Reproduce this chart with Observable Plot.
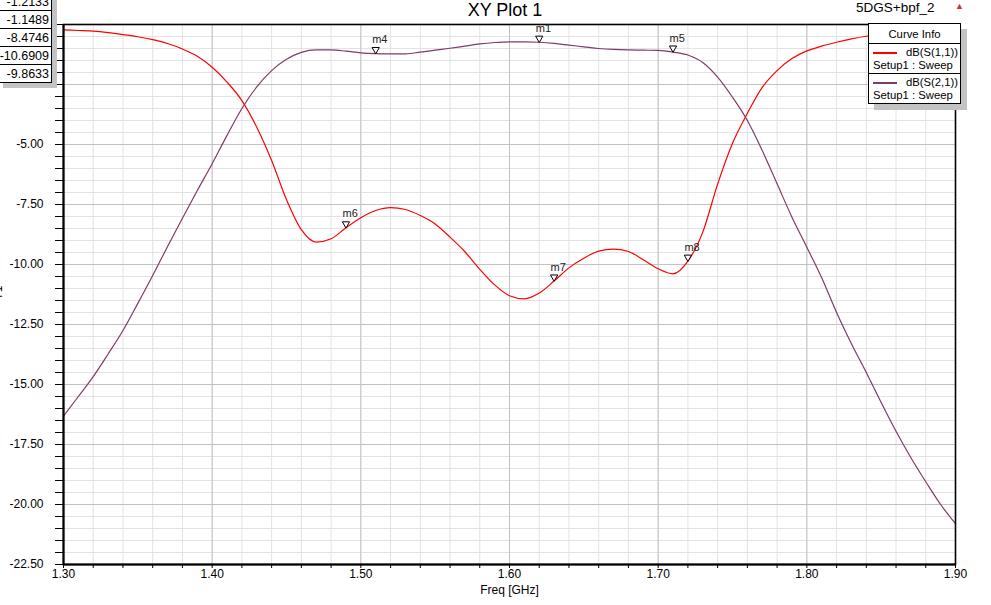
<!DOCTYPE html>
<html>
<head>
<meta charset="utf-8">
<script src="https://cdn.jsdelivr.net/npm/d3@7"></script>
<script src="https://cdn.jsdelivr.net/npm/@observablehq/plot@0.6"></script>
<style>
  html, body { margin:0; padding:0; background:#fff; }
  #wrap { position:relative; width:991px; height:605px; overflow:hidden; font-family:"Liberation Sans", Arial, sans-serif; }
  #chart { position:absolute; left:0; top:0; }
  .abs { position:absolute; white-space:nowrap; }
</style>
</head>
<body>
<div id="wrap">
  <div id="chart"></div>
  <div class="abs" style="left:0;width:1010px;top:0px;text-align:center;font-size:18px;color:#000;">XY Plot 1</div>
  <div class="abs" style="left:856px;top:0px;font-size:13.5px;color:#000;">5DGS+bpf_2</div>
  <div class="abs" style="left:955px;top:1px;font-size:9px;color:#c83030;">▲</div>
  <div class="abs" style="left:-9px;top:286px;font-size:12px;transform:rotate(-90deg);">Y1</div>
  <div id="mtable" class="abs"></div>
  <div id="legend" class="abs"></div>
</div>
<script>
// ---------- data ----------
const freq = [1.30,1.31,1.32,1.33,1.34,1.35,1.36,1.37,1.38,1.39,
              1.40,1.41,1.42,1.43,1.44,1.45,1.46,1.47,1.48,1.49,
              1.50,1.51,1.52,1.53,1.54,1.55,1.56,1.57,1.58,1.59,
              1.60,1.61,1.62,1.63,1.64,1.65,1.66,1.67,1.68,1.69,
              1.70,1.71,1.72,1.73,1.74,1.75,1.76,1.77,1.78,1.79,
              1.80,1.81,1.82,1.83,1.84,1.85,1.86,1.87,1.88,1.89,1.90];
const s11 = [-0.22,-0.25,-0.28,-0.34,-0.42,-0.51,-0.63,-0.79,-1.02,-1.32,
             -1.78,-2.40,-3.17,-4.28,-5.67,-7.30,-8.55,-9.07,-8.93,-8.47,
             -8.05,-7.75,-7.63,-7.71,-7.96,-8.31,-8.86,-9.47,-10.20,-10.85,
             -11.30,-11.43,-11.19,-10.69,-10.14,-9.74,-9.44,-9.36,-9.46,-9.80,
             -10.18,-10.39,-9.86,-8.65,-6.65,-4.95,-3.70,-2.62,-1.92,-1.42,
             -1.10,-0.90,-0.74,-0.60,-0.49,-0.42,-0.37,-0.33,-0.30,-0.27,-0.25];
const s21 = [-16.32,-15.50,-14.67,-13.73,-12.75,-11.62,-10.46,-9.25,-8.07,-6.92,
             -5.80,-4.62,-3.50,-2.60,-1.92,-1.45,-1.16,-1.06,-1.06,-1.11,
             -1.18,-1.21,-1.22,-1.22,-1.15,-1.07,-0.99,-0.90,-0.81,-0.75,
             -0.72,-0.72,-0.74,-0.79,-0.86,-0.93,-1.00,-1.04,-1.06,-1.07,
             -1.08,-1.15,-1.27,-1.58,-2.19,-3.03,-4.00,-5.25,-6.64,-8.03,
             -9.28,-10.55,-12.00,-13.30,-14.50,-15.75,-16.95,-18.05,-19.05,-20.00,-20.80];

const seriesNames = ["dB(S(1,1))", "dB(S(2,1))"];
const seriesColors = ["#ff0000", "#7d3c68"];
const seriesSetup = ["Setup1 : Sweep", "Setup1 : Sweep"];

const markerNames = ["m1","m4","m5","m6","m7","m8"];
const markerFreq  = [1.62, 1.51, 1.71, 1.49, 1.63, 1.72];
const markerVal   = [-0.7404, -1.2133, -1.1489, -8.4746, -10.6909, -9.8633];

const xTickLabels = ["1.30","1.40","1.50","1.60","1.70","1.80","1.90"];
const yTickLabels = ["0.00","-2.50","-5.00","-7.50","-10.00","-12.50","-15.00","-17.50","-20.00","-22.50"];
const xLabel = "Freq [GHz]";

// ---------- derived tables ----------
const xTicks = xTickLabels.map(Number);
const yTicks = yTickLabels.map(Number);
const xMinor = d3.range(0, 31).map(i => +(1.30 + i * 0.02).toFixed(2));
const yMinor = d3.range(0, 46).map(i => -i * 0.5);

const rows = [];
freq.forEach((f, i) => {
  rows.push({f, v: s11[i], s: seriesNames[0]});
  rows.push({f, v: s21[i], s: seriesNames[1]});
});
const markers = markerNames.map((m, i) => ({m, f: markerFreq[i], v: markerVal[i]}));

const plot = Plot.plot({
  width: 991, height: 605,
  marginLeft: 63, marginRight: 36, marginTop: 24, marginBottom: 41,
  x: {domain: [1.3, 1.9]},
  y: {domain: [-22.5, 0]},
  color: {domain: seriesNames, range: seriesColors},
  style: {fontFamily: "'Liberation Sans', Arial, sans-serif", fontSize: "12px", color: "#000", background: "transparent"},
  marks: [
    Plot.ruleX(xMinor, {stroke: "#e3e3e3", strokeWidth: 1}),
    Plot.ruleY(yMinor, {stroke: "#e3e3e3", strokeWidth: 1}),
    Plot.ruleX(xTicks, {stroke: "#c2c2c2", strokeWidth: 1}),
    Plot.ruleY(yTicks, {stroke: "#c2c2c2", strokeWidth: 1}),
    Plot.axisY(yMinor, {tickSize: 8, tickFormat: () => "", label: null, stroke: "#000"}),
    Plot.axisY(yTicks, {tickSize: 0, tickPadding: 20, tickFormat: (d) => yTickLabels[yTicks.indexOf(d)], label: null, fill: "#000"}),
    Plot.axisX(xMinor, {tickSize: 4, tickFormat: () => "", label: null, stroke: "#000"}),
    Plot.axisX(xTicks, {tickSize: 0, tickPadding: 5, tickFormat: (d) => xTickLabels[xTicks.indexOf(d)], label: null, fill: "#000"}),
    Plot.text([xLabel], {frameAnchor: "bottom", dy: 29, fontSize: 12, fill: "#000"}),
    Plot.line(rows, {x: "f", y: "v", z: "s", stroke: "s", strokeWidth: 1.2, curve: "monotone-x"}),
    Plot.frame({stroke: "#000", strokeWidth: 1.6}),
    Plot.ruleX([1.3], {stroke: "#000", strokeWidth: 2}),
    Plot.ruleY([-22.5], {stroke: "#000", strokeWidth: 2}),
    Plot.dot(markers, {x: "f", y: "v", symbol: "triangle", rotate: 180, r: 2.7, dy: -4, fill: "#fff", stroke: "#000", strokeWidth: 1}),
    Plot.text(markers, {x: "f", y: "v", text: "m", dx: -3.5, dy: -14, textAnchor: "start", fontSize: 11, fill: "#222"})
  ]
});
document.getElementById("chart").appendChild(plot);

// ---------- marker table (top-left, partly off-page) ----------
const mt = document.getElementById("mtable");
mt.style.cssText += "left:-2px;top:-25px;background:#fff;border-right:1.5px solid #000;box-shadow:5px 5px 0 #c3c3c3;";
markerVal.forEach((v) => {
  const r = document.createElement("div");
  r.textContent = v.toFixed(4);
  r.style.cssText = "width:51px;height:17px;line-height:19px;border-bottom:1px solid #000;text-align:right;font-size:12.5px;padding-right:2px;box-sizing:content-box;";
  mt.appendChild(r);
});

// ---------- legend ----------
const lg = document.getElementById("legend");
lg.style.cssText += "left:868px;top:23px;width:91px;background:#fff;border:1px solid #000;box-shadow:6px 6px 0 #c3c3c3;font-size:11.3px;color:#000;";
const hd = document.createElement("div");
hd.textContent = "Curve Info";
hd.style.cssText = "height:19px;line-height:20px;text-align:center;border-bottom:1px solid #000;";
lg.appendChild(hd);
seriesNames.forEach((n, i) => {
  const row = document.createElement("div");
  row.style.cssText = "position:relative;height:29px;" + (i === 0 ? "border-bottom:1px solid #000;" : "");
  const ln = document.createElement("div");
  ln.style.cssText = `position:absolute;left:4px;top:8px;width:24px;height:2px;background:${seriesColors[i]};`;
  const t1 = document.createElement("div");
  t1.textContent = n;
  t1.style.cssText = "position:absolute;right:2px;top:2px;white-space:nowrap;";
  const t2 = document.createElement("div");
  t2.textContent = seriesSetup[i];
  t2.style.cssText = "position:absolute;left:4px;top:15px;white-space:nowrap;";
  row.appendChild(ln); row.appendChild(t1); row.appendChild(t2);
  lg.appendChild(row);
});
</script>
</body>
</html>
